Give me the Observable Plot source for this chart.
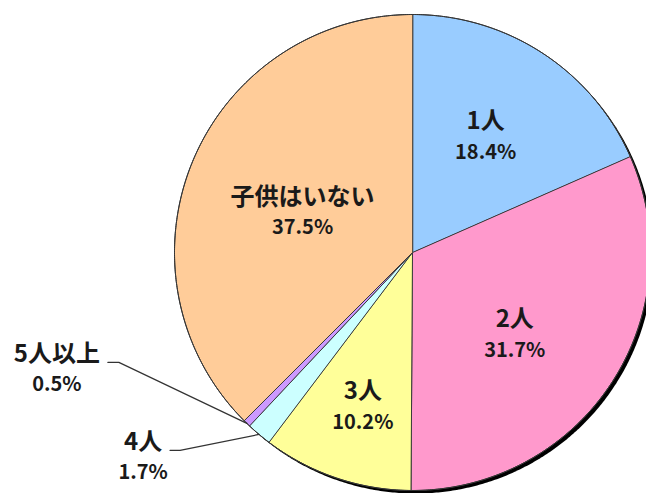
<!DOCTYPE html>
<html>
<head>
<meta charset="utf-8">
<script src="https://cdn.jsdelivr.net/npm/d3@7"></script>
<script src="https://cdn.jsdelivr.net/npm/@observablehq/plot@0.6"></script>
<style>
  html, body { margin: 0; padding: 0; background: #fff; }
  #chart svg { display: block; }
</style>
</head>
<body>
<div id="chart"></div>
<script>
// ---- data ----
const categories = ["1人", "2人", "3人", "4人", "5人以上", "子供はいない"];
const values = [18.4, 31.7, 10.2, 1.7, 0.5, 37.5];
const valueLabels = ["18.4%", "31.7%", "10.2%", "1.7%", "0.5%", "37.5%"];

// ---- style / layout ----
const colors = ["#99CCFF", "#FF99CC", "#FFFF99", "#CCFFFF", "#CC99FF", "#FFCC99"];
const W = 646, H = 493;
const cx = 412, cy = 252, R = 238;
const halfGap = 15.5; // half distance between the category line and the value line
// inside labels: [radius fraction, angle shift (deg)]; outside labels: null
const insideLabel = [[0.57, -0.5], [0.555, 6], [0.686, -1], null, null, [0.49, -3]];
// outside labels: offsets from slice edge point: label centre, elbow, line end
const outsideLabel = {
  3: {label: [-116, 24], elbow: [-79, 16], end: [-89, 16]},
  4: {label: [-190, -53], elbow: [-128, -61], end: [-139, -61]}
};

const pie = d3.pie().sort(null).value(d => d.value)(
  categories.map((c, i) => ({category: c, value: values[i], label: valueLabels[i], color: colors[i]}))
);

const pt = (a, r) => [cx + r * Math.sin(a), cy - r * Math.cos(a)];

const slices = {
  type: "FeatureCollection",
  features: pie.map(p => {
    const n = Math.max(2, Math.ceil((p.endAngle - p.startAngle) / (Math.PI / 360)));
    const ring = [[cx, cy]];
    for (let k = 0; k <= n; k++) ring.push(pt(p.startAngle + (p.endAngle - p.startAngle) * k / n, R));
    ring.push([cx, cy]);
    return {type: "Feature", properties: p.data, geometry: {type: "Polygon", coordinates: [ring]}};
  })
};

const diskRing = d3.range(0, 721).map(k => pt(k * Math.PI / 360, R));
const disk = {type: "Polygon", coordinates: [diskRing]};

const labels = [];
const leaders = [];
pie.forEach((p, i) => {
  const mid = (p.startAngle + p.endAngle) / 2;
  let x, y;
  if (insideLabel[i]) {
    const [f, s] = insideLabel[i];
    [x, y] = pt(mid + s * Math.PI / 180, R * f);
  } else {
    const o = outsideLabel[i];
    const [ex, ey] = pt(mid, R);
    x = ex + o.label[0]; y = ey + o.label[1];
    leaders.push({type: "LineString", coordinates: [[ex, ey], [ex + o.elbow[0], ey + o.elbow[1]], [ex + o.end[0], ey + o.end[1]]]});
  }
  labels.push({cat: p.data.category, val: p.data.label, xc: x, yc: y - halfGap - 1, yv: y + halfGap - 1});
});

const font = "'Noto Sans CJK JP', 'Noto Sans', sans-serif";

const chart = Plot.plot({
  width: W,
  height: H,
  margin: 0,
  projection: {type: "identity", domain: {type: "MultiPoint", coordinates: [[0, 0], [W, H]]}},
  marks: [
    Plot.geo([disk], {fill: "#000", dx: 3, dy: 3}),
    Plot.geo(slices, {fill: d => d.properties.color, stroke: "#3a3a3a", strokeWidth: 1}),
    Plot.geo([disk], {fill: "none", stroke: "#333", strokeWidth: 1}),
    Plot.geo(leaders, {stroke: "#333", strokeWidth: 1.2, fill: "none"}),
    Plot.text(labels, {
      x: "xc", y: "yc", text: "cat",
      fontSize: 24, fontWeight: "bold", fontFamily: font,
      fill: "#1a1a1a", textAnchor: "middle", lineAnchor: "middle"
    }),
    Plot.text(labels, {
      x: "xc", y: "yv", text: "val",
      fontSize: 20, fontWeight: "bold", fontFamily: font,
      fill: "#1a1a1a", textAnchor: "middle", lineAnchor: "middle"
    })
  ]
});
document.getElementById("chart").appendChild(chart);
</script>
</body>
</html>
